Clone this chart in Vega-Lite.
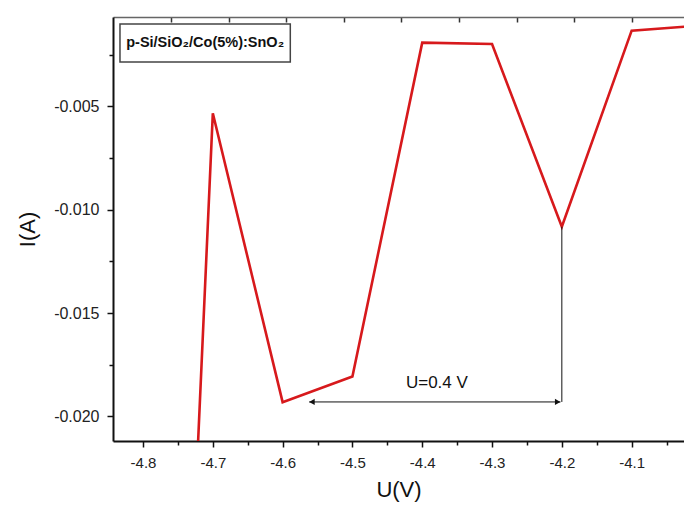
{
  "$schema": "https://vega.github.io/schema/vega-lite/v6.json",
  "width": 571,
  "height": 424,
  "autosize": {"type": "none"},
  "padding": {"left": 113, "top": 17, "right": 0, "bottom": 68},
  "background": "white",
  "config": {"view": {"stroke": null}, "font": "Liberation Sans"},
  "datasets": {
    "iv": [
      {"u": -4.75, "i": -0.043},
      {"u": -4.7, "i": -0.00533},
      {"u": -4.6, "i": -0.01931},
      {"u": -4.5, "i": -0.01807},
      {"u": -4.4, "i": -0.00191},
      {"u": -4.3, "i": -0.00198},
      {"u": -4.2, "i": -0.01082},
      {"u": -4.1, "i": -0.00133},
      {"u": -4.0, "i": -0.00108}
    ],
    "dim": [{"u": -4.2, "i": -0.01082}, {"u": -4.2, "i": -0.0193}],
    "arrow": [{"u": -4.562, "i": -0.0193}, {"u": -4.202, "i": -0.0193}],
    "heads": [
      {"u": -4.558, "i": -0.0193, "shape": "triangle-left"},
      {"u": -4.206, "i": -0.0193, "shape": "triangle-right"}
    ],
    "label": [{"u": -4.379, "i": -0.01838, "text": "U=0.4 V"}],
    "box": [{"u1": -4.833, "u2": -4.589, "i1": -0.001008, "i2": -0.002847, "um": -4.711, "im": -0.00193, "text": "p-Si/SiO₂/Co(5%):SnO₂"}]
  },
  "resolve": {"axis": {"x": "independent", "y": "independent"}},
  "layer": [
    {
      "data": {"name": "iv"},
      "mark": {"type": "line", "color": "#d7191c", "strokeWidth": 2.6, "clip": true},
      "encoding": {
        "x": {
          "field": "u", "type": "quantitative",
          "scale": {"domain": [-4.843, -4.025], "nice": false, "zero": false},
          "axis": {
            "orient": "bottom",
            "title": "U(V)",
            "titleFontSize": 22, "titleFontWeight": "normal", "titleColor": "#111", "titlePadding": 9,
            "values": [-4.8, -4.75, -4.7, -4.65, -4.6, -4.55, -4.5, -4.45, -4.4, -4.35, -4.3, -4.25, -4.2, -4.15, -4.1, -4.05],
            "format": ".1f",
            "labelExpr": "abs(datum.value*10 - round(datum.value*10)) < 0.001 ? replace(datum.label, '\u2212', '-') : ''",
            "tickSize": {"condition": {"test": "abs(datum.value*10 - round(datum.value*10)) < 0.001", "value": 6}, "value": 4},
            "tickColor": "#111", "tickWidth": 1.5,
            "domainColor": "#111", "domainWidth": 2,
            "labelFontSize": 15, "labelColor": "#222", "labelPadding": 8,
            "grid": false
          }
        },
        "y": {
          "field": "i", "type": "quantitative",
          "scale": {"domain": [-0.02119, -0.00067], "nice": false, "zero": false},
          "axis": {
            "title": "I(A)",
            "titleFontSize": 22, "titleFontWeight": "normal", "titleColor": "#111", "titlePadding": 14,
            "values": [-0.0025, -0.005, -0.0075, -0.01, -0.0125, -0.015, -0.0175, -0.02],
            "format": ".3f",
            "labelExpr": "abs(datum.value*200 - round(datum.value*200)) < 0.001 ? replace(datum.label, '\u2212', '-') : ''",
            "tickSize": {"condition": {"test": "abs(datum.value*200 - round(datum.value*200)) < 0.001", "value": 6}, "value": 4},
            "tickColor": "#111", "tickWidth": 1.5,
            "domainColor": "#111", "domainWidth": 2,
            "labelFontSize": 16, "labelColor": "#222", "labelPadding": 8,
            "grid": false
          }
        }
      }
    },
    {
      "data": {"name": "dim"},
      "mark": {"type": "line", "color": "#111", "strokeWidth": 1},
      "encoding": {
        "x": {
          "field": "u", "type": "quantitative",
          "axis": {
            "orient": "top", "title": null, "labels": false,
            "values": [-4.7598, -4.6773, -4.5948, -4.5123, -4.4298, -4.3473, -4.2648, -4.1823, -4.0998],
            "tickSize": -5, "tickColor": "#333", "tickWidth": 1.5,
            "domainColor": "#666", "domainWidth": 1.5, "grid": false
          }
        },
        "y": {"field": "i", "type": "quantitative", "axis": null}
      }
    },
    {
      "data": {"name": "arrow"},
      "mark": {"type": "line", "color": "#111", "strokeWidth": 1},
      "encoding": {
        "x": {"field": "u", "type": "quantitative", "axis": null},
        "y": {"field": "i", "type": "quantitative", "axis": null}
      }
    },
    {
      "data": {"name": "heads"},
      "mark": {"type": "point", "filled": true, "color": "#111", "size": 40, "opacity": 1},
      "encoding": {
        "x": {"field": "u", "type": "quantitative", "axis": null},
        "y": {"field": "i", "type": "quantitative", "axis": null},
        "shape": {"field": "shape", "type": "nominal", "scale": null, "legend": null}
      }
    },
    {
      "data": {"name": "label"},
      "mark": {"type": "text", "fontSize": 17, "color": "#111", "align": "center", "baseline": "middle"},
      "encoding": {
        "x": {"field": "u", "type": "quantitative", "axis": null},
        "y": {"field": "i", "type": "quantitative", "axis": null},
        "text": {"field": "text"}
      }
    },
    {
      "data": {"name": "box"},
      "mark": {"type": "rect", "fill": "white", "stroke": "#444", "strokeWidth": 1.5},
      "encoding": {
        "x": {"field": "u1", "type": "quantitative", "axis": null},
        "x2": {"field": "u2"},
        "y": {"field": "i1", "type": "quantitative", "axis": null},
        "y2": {"field": "i2"}
      }
    },
    {
      "data": {"name": "box"},
      "mark": {"type": "text", "font": "Liberation Sans", "fontSize": 14.5, "fontWeight": "bold", "color": "#111", "align": "center", "baseline": "middle"},
      "encoding": {
        "x": {"field": "um", "type": "quantitative", "axis": null},
        "y": {"field": "im", "type": "quantitative", "axis": null},
        "text": {"field": "text"}
      }
    }
  ]
}
